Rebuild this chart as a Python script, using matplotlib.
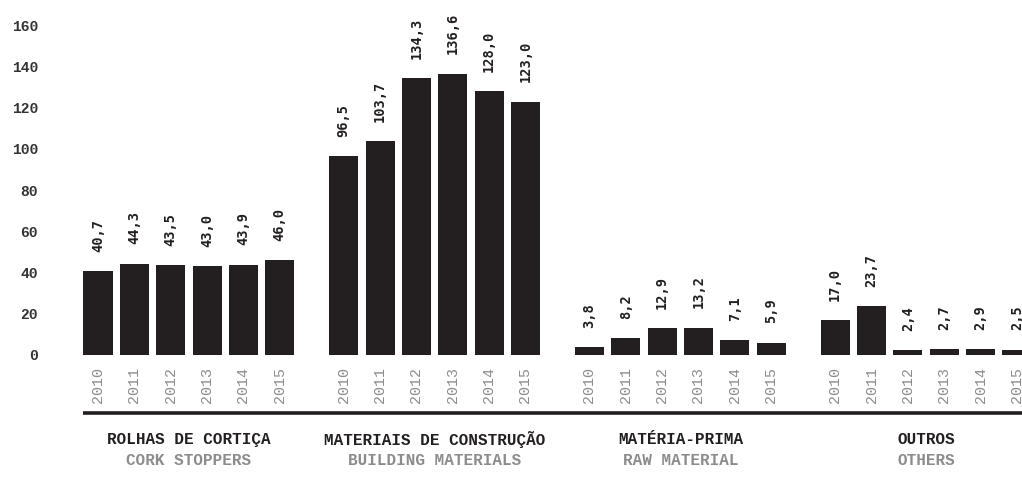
import numpy as np
import matplotlib.pyplot as plt

years = ["2010", "2011", "2012", "2013", "2014", "2015"]
groups_pt = ["ROLHAS DE CORTIÇA", "MATERIAIS DE CONSTRUÇÃO", "MATÉRIA-PRIMA", "OUTROS"]
groups_en = ["CORK STOPPERS", "BUILDING MATERIALS", "RAW MATERIAL", "OTHERS"]

rolhas = [40.7, 44.3, 43.5, 43.0, 43.9, 46.0]
construcao = [96.5, 103.7, 134.3, 136.6, 128.0, 123.0]
materia_prima = [3.8, 8.2, 12.9, 13.2, 7.1, 5.9]
outros = [17.0, 23.7, 2.4, 2.7, 2.9, 2.5]
series = [rolhas, construcao, materia_prima, outros]

yticks = [0, 20, 40, 60, 80, 100, 120, 140, 160]

DARK = "#231f20"
GREY = "#8c8c8c"
MONO = "Liberation Mono"
step = 6.76   # distance between group starts, in bar slots
width = 0.8

fig = plt.figure(figsize=(10.22, 4.82), dpi=100)
ax = fig.add_axes([0, 0, 1, 1])
ax.set_xlim(-2.696, 25.42)
ax.set_ylim(-61.65, 172.3)

for g, vals in enumerate(series):
    x = g * step + np.arange(len(vals))
    ax.bar(x, vals, width=width, color=DARK, linewidth=0)
    for xi, v, yr in zip(x, vals, years):
        ax.annotate(f"{v:.1f}".replace(".", ","), (xi, v), xytext=(0, 14),
                    textcoords="offset points", rotation=90, ha="center",
                    va="bottom", fontsize=9.8, family="DejaVu Sans Mono",
                    fontweight="bold", color=DARK)
        ax.text(xi, -5.8, yr, rotation=90, ha="center", va="top",
                fontsize=10.8, family=MONO, color=GREY)
    cx = x.mean()
    ax.text(cx, -40.8, groups_pt[g], ha="center", va="center", fontsize=11.5,
            family=MONO, fontweight="bold", color=DARK)
    ax.text(cx, -51.0, groups_en[g], ha="center", va="center", fontsize=11.5,
            family=MONO, fontweight="bold", color=GREY)

# rule under the year labels
ax.plot([-width / 2, 26], [-28.2, -28.2], color=DARK, lw=2.6,
        solid_capstyle="butt", clip_on=False)

ax.set_yticks(yticks)
ax.set_yticklabels([str(t) for t in yticks])
ax.tick_params(axis="y", length=0, pad=-27.4, labelsize=10.5, labelcolor="#333333")
for lab in ax.get_yticklabels():
    lab.set_family(MONO)
    lab.set_fontweight("bold")
    lab.set_horizontalalignment("right")
ax.set_xticks([])
for s in ax.spines.values():
    s.set_visible(False)

fig.savefig("out.png", dpi=100)
